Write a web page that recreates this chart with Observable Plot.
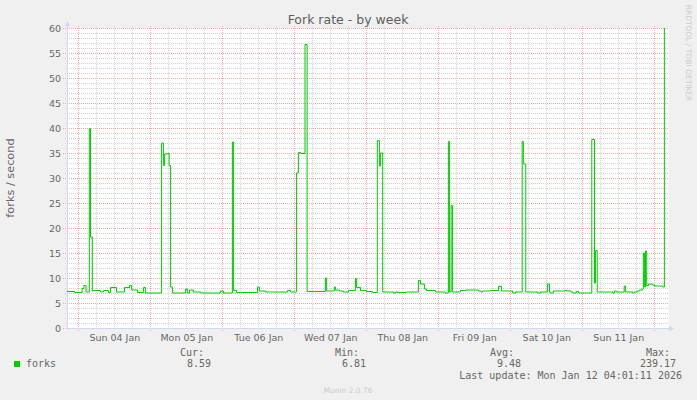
<!DOCTYPE html>
<html><head><meta charset="utf-8">
<script src="https://cdn.jsdelivr.net/npm/d3@7"></script>
<script src="https://cdn.jsdelivr.net/npm/@observablehq/plot@0.6"></script>
<style>
html,body{margin:0;padding:0;background:#f0f0f0;}
#wrap{position:relative;width:697px;height:400px;overflow:hidden;font-family:"DejaVu Sans",sans-serif;color:#666;}
#wrap svg{position:absolute;left:0;top:0;}
.t{position:absolute;white-space:nowrap;}
.mono{font-family:"DejaVu Sans Mono",monospace;font-size:10px;line-height:12px;height:12px;}
</style></head>
<body><div id="wrap"></div>
<script>
// ---- data (hours since Sun 04 Jan 2026 00:00, fork rate per second) ----
const title = "Fork rate - by week";
const yLabel = "forks / second";
const hours = [-3.8,-1.4,1.1,1.7,2.4,3.5,3.9,4.5,4.9,7.2,8.2,9.9,10.6,12.6,15.2,16.9,17.6,19.6,21.6,22.2,
  27.6,28.2,28.6,29.6,30.1,30.6,31.2,35.6,36.2,36.9,38.2,40.6,47.2,48.2,51.2,51.6,52.6,59.6,60.2,62.2,
  69.6,70.6,72.6,73.2,73.9,75.4,76.1,82.2,82.6,85.2,85.6,86.9,88.2,89.9,92.2,92.6,93.9,95.9,97.9,99.5,
  100.2,100.6,101.3,104.9,105.6,106.2,108.9,113.2,113.9,115.2,115.9,118.9,122.2,123.2,123.6,124.1,124.6,
  127.2,128.9,133.2,134.1,134.6,137.2,139.9,140.9,144.6,145.6,147.8,148.2,149.0,152.9,153.9,156.2,156.9,
  157.2,158.2,162.1,162.6,164.1,164.6,165.8,166.6,171.0,171.9,172.2,172.8,177.9,178.6,179.2,181.8,182.2,
  184.6,185.2,186.2,186.9,187.9,188.2,188.6,188.9,189.3,189.9,191.2,191.9,194.6,195.2,195.6];
const forks = [7.4,7.2,8.0,8.6,7.3,40.0,18.3,7.5,7.6,7.3,7.6,7.2,8.2,7.3,8.2,8.6,7.7,7.2,8.2,7.1,
  37.1,32.6,34.9,35.0,32.6,8.3,7.1,7.9,7.1,7.7,7.3,7.1,7.5,7.1,37.3,7.6,7.2,8.3,7.5,7.3,
  7.6,7.3,31.1,35.2,35.0,56.8,7.4,10.1,7.5,8.3,7.7,7.5,7.3,7.6,10.0,8.2,7.6,7.4,7.2,37.6,
  32.5,35.1,7.3,7.1,7.3,7.2,7.3,9.6,8.9,7.9,7.6,7.3,7.1,37.4,7.3,24.6,7.3,
  7.6,7.7,7.5,7.3,7.5,7.6,8.4,7.5,7.1,7.3,37.4,32.9,7.3,7.1,7.3,8.9,7.3,
  7.1,7.5,7.6,7.5,7.3,7.1,7.4,7.1,37.8,9.1,15.6,7.3,7.1,7.5,7.3,8.5,7.3,
  7.1,7.3,7.5,7.7,7.9,15.1,8.3,15.5,8.6,8.9,8.7,8.5,8.3,239.17,239.17];
const yTicks = [0,5,10,15,20,25,30,35,40,45,50,55,60];
const dayLabels = ["Sun 04 Jan","Mon 05 Jan","Tue 06 Jan","Wed 07 Jan","Thu 08 Jan","Fri 09 Jan","Sat 10 Jan","Sun 11 Jan"];
const legendNames = ["forks"];
const legendHeads = ["Cur:","Min:","Avg:","Max:"];
const legendValues = ["8.59","6.81","9.48","239.17"];
const lastUpdate = "Last update: Mon Jan 12 04:01:11 2026";
const credit = "Munin 2.0.76";
const sideText = "RRDTOOL / TOBI OETIKER";

// ---- chart ----
const base = Date.UTC(2026,0,4);
const H = 3600e3;
const toDate = h => new Date(base + h*H);
const data = hours.map((h,i)=>({t: toDate(h), v: forks[i]}));
const x0 = toDate(-3.77), x1 = toDate(196.57);
const dayTicks = d3.range(0, 193, 24).map(toDate);
const minorX = d3.range(0, 197, 6).filter(h => h % 24).map(toDate);
const noon = dayLabels.map((_, i) => toDate(i*24 + 12));
const minorY = d3.range(0, 61, 1).filter(v => v % 5);
const gridGrey = "#d2d2d2", gridRed = "#f2a6a6", axisCol = "#CFD6F8", lineCol = "#00cc00";

const upArrow = {draw(c, size){ const r = Math.sqrt(size/Math.PI); c.moveTo(0,-r); c.lineTo(r*0.9,r*0.6); c.lineTo(-r*0.9,r*0.6); c.closePath(); }};
const rightArrow = {draw(c, size){ const r = Math.sqrt(size/Math.PI); c.moveTo(r,0); c.lineTo(-r*0.6,-r*0.9); c.lineTo(-r*0.6,r*0.9); c.closePath(); }};

const chart = Plot.plot({
  width: 697, height: 400,
  marginLeft: 67, marginRight: 29, marginTop: 28, marginBottom: 72,
  style: {background: "transparent", fontFamily: "DejaVu Sans", fontSize: "9.5px", color: "#666", overflow: "visible"},
  x: {type: "utc", domain: [x0, x1], ticks: noon, tickSize: 0, tickPadding: 5.5, label: null,
      tickFormat: d => dayLabels[Math.floor((d - base) / (24*H))]},
  y: {domain: [0, 60], ticks: yTicks, tickSize: 0, tickPadding: 6.5, label: null},
  marks: [
    Plot.frame({fill: "white", stroke: "none"}),
    Plot.ruleY(minorY, {stroke: gridGrey, strokeDasharray: "1,1", insetLeft: -2, insetRight: -1, shapeRendering: "crispEdges"}),
    Plot.ruleX(minorX, {stroke: gridGrey, strokeDasharray: "1,1", insetTop: -2, insetBottom: -2, shapeRendering: "crispEdges"}),
    Plot.ruleY(yTicks, {stroke: gridRed, strokeDasharray: "1,1", insetLeft: -4, insetRight: -1, shapeRendering: "crispEdges"}),
    Plot.ruleX(dayTicks, {stroke: gridRed, strokeDasharray: "1,1", insetTop: -2, insetBottom: -4, shapeRendering: "crispEdges"}),
    Plot.ruleX([x0], {y1: 0, y2: 60.8, stroke: axisCol, insetBottom: -2, shapeRendering: "crispEdges"}),
    Plot.ruleY([0], {x1: x0, x2: x1, stroke: axisCol, insetLeft: -2, insetRight: -2, shapeRendering: "crispEdges"}),
    Plot.line(data, {x: "t", y: "v", curve: "step-after", stroke: lineCol, strokeWidth: 1, clip: true}),
    Plot.dot([x0], {x: d => d, y: () => 60.85, symbol: upArrow, r: 3, fill: axisCol, stroke: "none"}),
    Plot.dot([x1], {x: d => d, y: () => 0, dx: 2.5, symbol: rightArrow, r: 3, fill: axisCol, stroke: "none"})
  ]
});
const wrap = document.getElementById("wrap");
wrap.appendChild(chart);

function addText(txt, o){
  const d = document.createElement("div");
  d.className = "t" + (o.mono ? " mono" : "");
  d.textContent = txt;
  if (!o.mono) { d.style.fontSize = o.size + "px"; d.style.lineHeight = "1.2"; }
  if (o.color) d.style.color = o.color;
  if (o.anchor === "end") {
    d.style.right = (697 - o.x) + "px";
    d.style.top = o.y + "px";
    d.style.transform = "translateY(-50%)";
  } else if (o.anchor === "start") {
    d.style.left = o.x + "px";
    d.style.top = o.y + "px";
    d.style.transform = "translateY(-50%)";
  } else {
    d.style.left = o.x + "px";
    d.style.top = o.y + "px";
    d.style.transform = "translate(-50%,-50%)" + (o.rotate ? ` rotate(${o.rotate}deg)` : "");
  }
  wrap.appendChild(d);
  return d;
}
addText(title, {x: 348, y: 19, size: 12.5, color: "#5e5e5e"});
addText(yLabel, {x: 11, y: 177.5, size: 11.3, rotate: -90});
addText(sideText, {x: 687.5, y: 53, size: 7.5, rotate: 90, color: "#cccccc"});
addText(credit, {x: 348, y: 389.5, size: 7.5, color: "#cccccc"});

// legend
const sq = document.createElement("div");
sq.style.cssText = "position:absolute;left:14px;top:361px;width:6px;height:6px;background:" + lineCol + ";";
wrap.appendChild(sq);
addText(legendNames[0], {x: 26, y: 364, mono: true, anchor: "start"});
const headRight = [204, 359, 514, 670];
const valRight = [211, 366, 521, 676];
legendHeads.forEach((h, i) => addText(h, {x: headRight[i], y: 352.5, mono: true, anchor: "end"}));
legendValues.forEach((v, i) => addText(v, {x: valRight[i], y: 364, mono: true, anchor: "end"}));
addText(lastUpdate, {x: 682, y: 376, mono: true, anchor: "end"});
</script>
</body></html>
